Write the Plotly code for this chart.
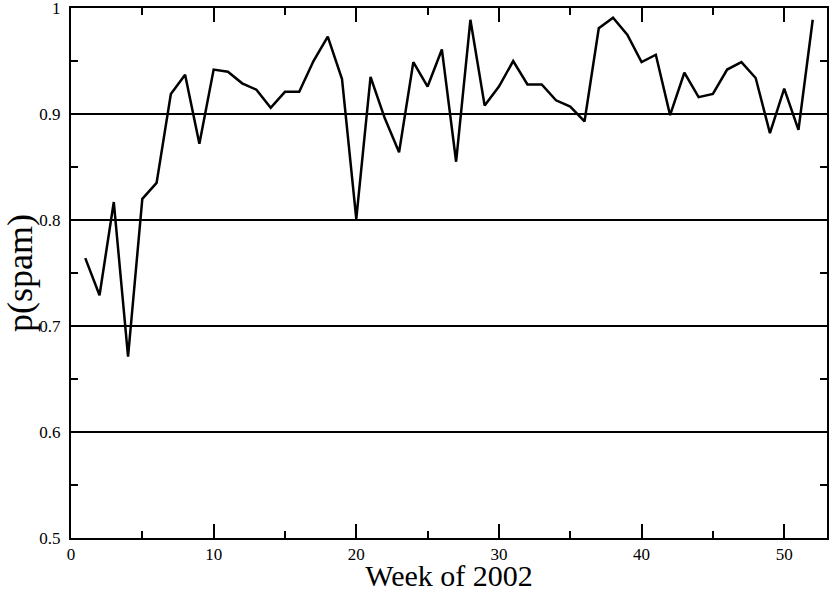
import plotly.graph_objects as go

weeks = list(range(1, 53))
p_spam = [0.764, 0.729, 0.817, 0.671, 0.820, 0.835, 0.919, 0.937, 0.872, 0.942,
          0.940, 0.929, 0.923, 0.906, 0.921, 0.921, 0.950, 0.973, 0.933, 0.801,
          0.935, 0.896, 0.864, 0.949, 0.926, 0.961, 0.855, 0.989, 0.908, 0.926,
          0.950, 0.928, 0.928, 0.913, 0.907, 0.893, 0.981, 0.991, 0.975, 0.949,
          0.956, 0.899, 0.939, 0.916, 0.919, 0.942, 0.949, 0.934, 0.882, 0.924,
          0.885, 0.989]

x_ticks = [0, 10, 20, 30, 40, 50]
y_ticks = [0.5, 0.6, 0.7, 0.8, 0.9, 1.0]
y_ticklabels = ["0.5", "0.6", "0.7", "0.8", "0.9", "1"]

x_title = "Week of 2002"
y_title = "p(spam)"

fig = go.Figure()
fig.add_trace(go.Scatter(x=weeks, y=p_spam, mode="lines",
                         line=dict(color="black", width=2.5), showlegend=False))

font_family = "Liberation Serif, Times New Roman, serif"
fig.update_layout(
    width=830, height=592,
    margin=dict(l=71, r=3, t=8, b=54),
    paper_bgcolor="white", plot_bgcolor="white",
    font=dict(family=font_family, color="black", size=17),
)
fig.update_xaxes(
    range=[-0.0001, 53.0001], tickmode="array",
    tickvals=x_ticks, ticktext=[str(v) for v in x_ticks], automargin=False,
    showline=True, linecolor="black", linewidth=2, mirror="allticks",
    ticks="inside", ticklen=14, tickwidth=1.5, tickcolor="black",
    minor=dict(ticks="inside", ticklen=7, tick0=0, dtick=5, tickwidth=1.5, tickcolor="black"),
    showgrid=False, zeroline=False, ticklabeloverflow="allow",
    tickfont=dict(size=17), ticklabelstandoff=0,
    title=dict(text=x_title, font=dict(size=30), standoff=1),
)
fig.update_yaxes(
    range=[0.4999, 1.0001], tickmode="array",
    tickvals=y_ticks, ticktext=y_ticklabels, automargin=False,
    showline=True, linecolor="black", linewidth=2, mirror="allticks",
    ticks="inside", ticklen=14, tickwidth=1.5, tickcolor="black",
    minor=dict(ticks="inside", ticklen=7, tick0=0.5, dtick=0.05, tickwidth=1.5, tickcolor="black"),
    showgrid=True, gridcolor="black", gridwidth=1.5, zeroline=False,
    ticklabeloverflow="allow",
    tickfont=dict(size=17), ticklabelstandoff=5,
    title=dict(text=y_title, font=dict(size=36), standoff=3),
)

fig.write_html("out.html",
               config={"displayModeBar": False},
               post_script="document.body.style.margin='0';document.body.style.overflow='hidden';")
